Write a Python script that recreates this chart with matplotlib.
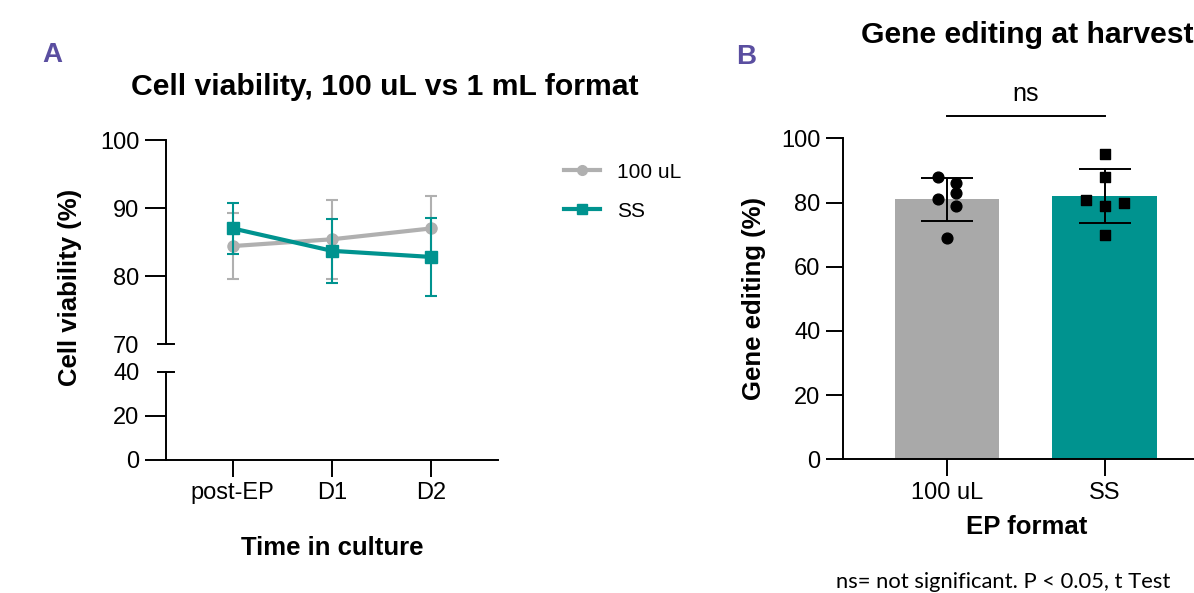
import matplotlib
matplotlib.use("Agg")
import matplotlib.pyplot as plt
import matplotlib.transforms as mtransforms
from matplotlib.lines import Line2D

plt.rcParams["font.family"] = ["Liberation Sans", "DejaVu Sans"]

# ---- data: panel A (cell viability, mean +/- SD) ----
timepoints = ["post-EP", "D1", "D2"]
via_100ul = [84.4, 85.4, 87.0]
via_100ul_sd = [4.9, 5.8, 4.8]
via_ss = [87.0, 83.7, 82.8]
via_ss_sd = [3.8, 4.7, 5.7]

# ---- data: panel B (gene editing at harvest) ----
formats = ["100 uL", "SS"]
ge_mean = [81.0, 82.0]
ge_sd = [6.7, 8.5]
ge_100ul_pts = [88.0, 86.0, 82.9, 81.0, 78.9, 69.0]
ge_ss_pts = [95.0, 88.0, 80.8, 79.8, 78.9, 69.9]
# horizontal scatter of the dots (category units)
ge_100ul_jitter = [-0.06, 0.06, 0.06, -0.06, 0.06, 0.0]
ge_ss_jitter = [0.0, 0.0, -0.12, 0.125, 0.0, 0.0]

GRAY = "#b0b0b0"
TEAL = "#00938f"
BAR_GRAY = "#a9a9a9"
PURPLE = "#5a4ea0"

W, H = 1194, 593
fig = plt.figure(figsize=(W / 100, H / 100), dpi=100)


def px(x0, y_top, x1, y_bot):
    return [x0 / W, (H - y_bot) / H, (x1 - x0) / W, (y_bot - y_top) / H]


def style(ax):
    for s in ["top", "right"]:
        ax.spines[s].set_visible(False)
    for s in ["left", "bottom"]:
        ax.spines[s].set_linewidth(1.4)
    ax.tick_params(width=1.4, length=12, labelsize=17, pad=4)


# ---------------- panel A ----------------
ax_top = fig.add_axes(px(166, 140, 498, 344))
ax_bot = fig.add_axes(px(166, 372, 498, 460))
x = list(range(len(timepoints)))

ax_top.errorbar(x, via_100ul, yerr=via_100ul_sd, color=GRAY, lw=3, marker="o",
                ms=8, elinewidth=1.5, capsize=4, capthick=1.5, label="100 uL", zorder=2)
ax_top.errorbar(x, via_ss, yerr=via_ss_sd, color=TEAL, lw=3, marker="s",
                ms=8, elinewidth=1.5, capsize=4, capthick=1.5, label="SS", zorder=3)

for ax in (ax_top, ax_bot):
    style(ax)
    ax.set_xlim(-0.67, 2.67)

ax_top.set_ylim(70, 100)
ax_top.set_yticks([70, 80, 90, 100])
ax_top.spines["bottom"].set_visible(False)
ax_top.tick_params(axis="x", bottom=False, labelbottom=False)
ax_top.tick_params(axis="y", length=15)
ax_top.yaxis.get_major_ticks()[0].tick1line.set_visible(False)

ax_bot.set_ylim(0, 40)
ax_bot.set_yticks([0, 20, 40])
ax_bot.tick_params(axis="y", length=15)
ax_bot.yaxis.get_major_ticks()[-1].tick1line.set_visible(False)
ax_bot.set_xticks(x)
ax_bot.set_xticklabels(timepoints)

# break marks centred on the spine at 70 and 40
for ax, yv in ((ax_top, 70), (ax_bot, 40)):
    tr = mtransforms.blended_transform_factory(ax.transAxes, ax.transData)
    off = 8 / 332
    ax.plot([-off, off], [yv, yv], color="black", lw=1.4, transform=tr, clip_on=False)

handles = [Line2D([], [], color=GRAY, lw=3, marker="o", ms=7),
           Line2D([], [], color=TEAL, lw=3, marker="s", ms=7)]
fig.legend(handles, ["100 uL", "SS"], loc="upper left", bbox_to_anchor=(545 / W, 1 - 144 / H),
           frameon=False, fontsize=15, handlelength=1.75, handletextpad=0.8, labelspacing=0.95)

fig.text(52 / W, 1 - 55 / H, "A", color=PURPLE, fontsize=20, fontweight="bold",
         ha="center", va="center")
fig.text(385 / W, 1 - 87 / H, "Cell viability, 100 uL vs 1 mL format", fontsize=21.7,
         fontweight="bold", ha="center", va="center")
fig.text(70 / W, 1 - 287 / H, "Cell viability (%)", fontsize=18.5, fontweight="bold",
         rotation=90, ha="center", va="center")
fig.text(332 / W, 1 - 548 / H, "Time in culture", fontsize=18.5, fontweight="bold",
         ha="center", va="center")

# ---------------- panel B ----------------
axb = fig.add_axes(px(842.7, 138.3, 1208.8, 459.3))
style(axb)
xb = list(range(len(formats)))
axb.bar(xb, ge_mean, width=0.662, color=[BAR_GRAY, TEAL], zorder=1)
axb.errorbar(xb, ge_mean, yerr=ge_sd, fmt="none", ecolor="black", elinewidth=1.4,
             capsize=19, capthick=1.4, zorder=3)
axb.scatter([xb[0] + j for j in ge_100ul_jitter], ge_100ul_pts, marker="o", s=60,
            color="black", zorder=4)
axb.scatter([xb[1] + j for j in ge_ss_jitter], ge_ss_pts, marker="s", s=60,
            color="black", zorder=4)
axb.set_xlim(-0.662, 1.662)
axb.set_ylim(0, 100)
axb.set_yticks([0, 20, 40, 60, 80, 100])
axb.set_xticks(xb)
axb.set_xticklabels(formats)
axb.plot([xb[0], xb[1]], [106.9, 106.9], color="black", lw=1.4, clip_on=False)
axb.text(0.5, 110, "ns", fontsize=18, ha="center", va="bottom")

fig.text(746 / W, 1 - 57 / H, "B", color=PURPLE, fontsize=20, fontweight="bold",
         ha="center", va="center")
fig.text(1027 / W, 1 - 35 / H, "Gene editing at harvest", fontsize=21.7,
         fontweight="bold", ha="center", va="center")
fig.text(754 / W, 1 - 298 / H, "Gene editing (%)", fontsize=18.5, fontweight="bold",
         rotation=90, ha="center", va="center")
fig.text(1027 / W, 1 - 527 / H, "EP format", fontsize=18.5, fontweight="bold",
         ha="center", va="center")
fig.text(1003 / W, 1 - 582 / H, "ns= not significant. P < 0.05, t Test", fontsize=15.8,
         family=["Lato", "DejaVu Sans"], ha="center", va="center")

fig.savefig("out.png", dpi=100)
